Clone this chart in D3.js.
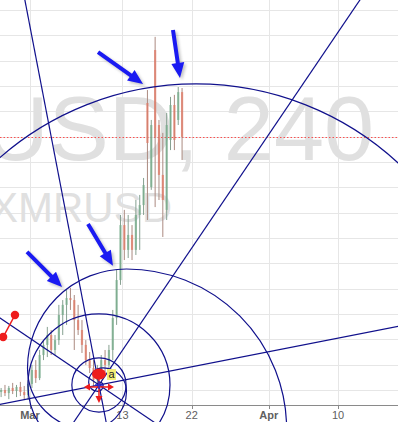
<!DOCTYPE html>
<html>
<head>
<meta charset="utf-8">
<script src="https://cdn.jsdelivr.net/npm/d3@7"></script>
<style>
html, body { margin: 0; padding: 0; background: #fff; overflow: hidden; }
svg { display: block; }
</style>
</head>
<body>
<script>
const W = 398, H = 422;
const plotBottom = 405;
const parse = d3.utcParse("%Y-%m-%d %H:%M");

// visible time window and price window
const viewStart = parse("2017-02-25 02:30");
const viewEnd = parse("2017-04-17 19:00");
const priceLow = 12, priceHigh = 27;

// 12h candles from Feb 25
const firstCandle = parse("2017-02-25 06:00");
const opens  = [11.92,12.00,11.88,12.08,11.96,12.12,11.92,11.80,12.24,12.79,12.47,13.38,13.78,14.17,13.58,13.97,14.96,15.36,15.63,15.55,14.76,14.37,13.78,13.18,12.87,12.39,12.79,13.18,12.99,13.58,14.84,16.34,18.51,17.53,18.12,17.53,18.91,19.30,23.33,20.01,25.42,22.46,20.49,19.11,21.87,23.25,22.66,23.76];
const highs  = [12.08,12.20,12.16,12.28,12.20,12.32,12.16,12.39,12.99,13.18,13.58,13.97,14.49,14.37,14.17,15.36,15.55,15.95,16.03,15.75,15.36,14.76,13.97,13.50,13.18,12.99,13.38,13.58,13.78,15.16,16.74,18.91,19.11,18.91,18.51,19.50,19.70,20.37,23.84,22.66,25.94,22.66,22.15,22.94,23.57,23.65,23.96,23.92];
const lows   = [11.72,11.76,11.64,11.84,11.72,11.76,11.61,11.61,12.08,12.28,12.39,13.18,13.30,13.38,13.38,13.78,14.17,14.57,15.16,13.58,14.17,13.46,12.99,12.67,12.12,12.08,12.47,12.71,12.79,13.18,14.57,16.15,17.13,17.21,17.13,17.33,17.53,18.91,18.71,19.90,19.22,19.50,18.04,18.71,21.47,21.47,22.46,21.08];
const closes = [12.00,11.88,12.08,11.96,12.12,11.92,11.80,12.24,12.79,12.47,13.38,13.78,14.17,13.58,13.97,14.96,15.36,15.63,15.55,14.76,14.37,13.78,13.18,12.87,12.39,12.79,13.18,12.99,13.58,14.84,16.34,18.51,17.53,18.12,17.53,18.91,19.30,20.09,21.75,22.46,21.99,20.49,19.50,22.46,23.25,21.87,23.76,21.99];
const lastPrice = 21.99;

const tickDates = ["2017-03-01 00:00","2017-03-13 00:00","2017-03-22 00:00","2017-04-01 00:00","2017-04-10 00:00"];
const tickLabels = ["Mar","13","22","Apr","10"];

// drawing anchors [time, price]
const pivot = [parse("2017-03-09 23:00"), 12.20];
const fanPoints = [
  [parse("2017-03-22 17:00"), 12.96],
  [parse("2017-03-17 06:00"), 15.47],
  [parse("2017-03-07 12:10"), 16.07],
  [parse("2017-02-27 05:00"), 14.41]
];
const spiralCentre = [parse("2017-03-13 12:45"), 12.87];
const spiralStart = [parse("2017-02-28 16:15"), 12.87];
const fibEdge = [parse("2017-03-19 04:20"), 12.20];
const fibLevels = [0.382, 1];
const bigCircleCentre = [parse("2017-03-22 13:25"), 12.32];
const bigCircleEdge = [parse("2017-03-22 13:25"), 24.08];
const arrows = [
  [[parse("2017-03-09 20:00"), 25.34], [parse("2017-03-15 16:20"), 24.08]],
  [[parse("2017-03-19 13:40"), 26.21], [parse("2017-03-20 11:30"), 24.32]],
  [[parse("2017-03-08 12:45"), 18.55], [parse("2017-03-11 18:40"), 16.90]],
  [[parse("2017-02-28 14:40"), 17.45], [parse("2017-03-05 03:50"), 16.07]]
];
const redSegment = [[parse("2017-02-25 12:15"), 14.09], [parse("2017-02-27 01:10"), 14.96]];
const markerDot = [parse("2017-03-09 23:00"), 12.63];
const markerCross = [parse("2017-03-09 23:00"), 12.12];

const x = d3.scaleUtc().domain([viewStart, viewEnd]).range([0, W]);
const y = d3.scaleLinear().domain([priceLow, priceHigh]).range([390, 10]);
const px = d => [x(d[0]), y(d[1])];

const svg = d3.select("body").append("svg").attr("width", W).attr("height", H);
const defs = svg.append("defs");
defs.append("clipPath").attr("id", "plot").append("rect").attr("width", W).attr("height", plotBottom);
const blur = defs.append("filter").attr("id", "shadow").attr("x", "-50%").attr("y", "-50%").attr("width", "200%").attr("height", "200%");
blur.append("feGaussianBlur").attr("stdDeviation", 1.6);

svg.append("rect").attr("width", W).attr("height", H).attr("fill", "#fff");

// grid
const grid = svg.append("g").attr("stroke", "#e6e6e6").attr("stroke-width", 1);
d3.range(priceLow, priceHigh + 1).forEach(p => {
  grid.append("line").attr("x1", 0).attr("x2", W).attr("y1", Math.round(y(p)) + 0.5).attr("y2", Math.round(y(p)) + 0.5);
});
tickDates.forEach(t => {
  const xx = Math.round(x(parse(t))) + 0.5;
  grid.append("line").attr("x1", xx).attr("x2", xx).attr("y1", 0).attr("y2", plotBottom);
});

// watermark (partly outside the visible pane, as in the source)
svg.append("text").attr("x", 374).attr("y", 160).attr("text-anchor", "end")
  .attr("font-family", "Liberation Sans, Arial, sans-serif").attr("font-size", 90)
  .attr("fill", "#e0e0e0").text("XMRUSD, 240");
svg.append("text").attr("x", -10).attr("y", 222)
  .attr("font-family", "Liberation Sans, Arial, sans-serif").attr("font-size", 42)
  .attr("fill", "#e0e0e0").text("XMRUSD");

// last price line
svg.append("line").attr("x1", 0).attr("x2", W)
  .attr("y1", Math.round(y(lastPrice)) + 0.5).attr("y2", Math.round(y(lastPrice)) + 0.5)
  .attr("stroke", "#ff2a2a").attr("stroke-width", 1).attr("stroke-dasharray", "1.5,2")
  .attr("stroke-opacity", 0.8);

// axis
svg.append("line").attr("x1", 0).attr("x2", W).attr("y1", plotBottom + 0.5).attr("y2", plotBottom + 0.5)
  .attr("stroke", "#8a8a8a");
tickDates.forEach((t, i) => {
  const xx = x(parse(t));
  svg.append("line").attr("x1", Math.round(xx) + 0.5).attr("x2", Math.round(xx) + 0.5)
    .attr("y1", plotBottom).attr("y2", plotBottom + 4).attr("stroke", "#8a8a8a");
  svg.append("text").attr("x", xx).attr("y", 419).attr("text-anchor", "middle")
    .attr("font-family", "Liberation Sans, Arial, sans-serif").attr("font-size", 11)
    .attr("font-weight", isNaN(+tickLabels[i]) ? "bold" : "normal")
    .attr("fill", "#606060").text(tickLabels[i]);
});

// candles
const candles = opens.map((o, i) => ({
  t: d3.utcHour.offset(firstCandle, 12 * i), o, h: highs[i], l: lows[i], c: closes[i]
}));
const cg = svg.append("g").attr("clip-path", "url(#plot)");
candles.forEach(d => {
  const up = d.c >= d.o;
  const cx = x(d.t);
  cg.append("line").attr("x1", cx).attr("x2", cx).attr("y1", y(d.h)).attr("y2", y(d.l))
    .attr("stroke", up ? "#86a090" : "#ab8a80").attr("stroke-width", 1);
  const top = y(Math.max(d.o, d.c)), bot = y(Math.min(d.o, d.c));
  cg.append("rect").attr("x", cx - 1.1).attr("width", 2.2).attr("y", top).attr("height", Math.max(1, bot - top))
    .attr("fill", up ? "#78ad8c" : "#e07a66").attr("fill-opacity", 0.75);
});

// drawings
const navy = "#10108c";
const dg = svg.append("g").attr("fill", "none").attr("stroke", navy).attr("stroke-width", 1.2);

// fan lines through the pivot
const [pcx, pcy] = px(pivot);
fanPoints.forEach(p => {
  const [qx, qy] = px(p);
  const L = Math.hypot(qx - pcx, qy - pcy), ux = (qx - pcx) / L, uy = (qy - pcy) / L;
  dg.append("line").attr("x1", pcx - ux * 1200).attr("y1", pcy - uy * 1200)
    .attr("x2", pcx + ux * 1200).attr("y2", pcy + uy * 1200);
});

// fib circles around the pivot
const r1 = Math.hypot(px(fibEdge)[0] - pcx, px(fibEdge)[1] - pcy);
fibLevels.forEach(lv => {
  dg.append("circle").attr("cx", pcx).attr("cy", pcy).attr("r", r1 * lv);
});

// large circle
const [bcx, bcy] = px(bigCircleCentre);
const br = Math.hypot(px(bigCircleEdge)[0] - bcx, px(bigCircleEdge)[1] - bcy);
dg.append("circle").attr("cx", bcx).attr("cy", bcy).attr("r", br);

// golden spiral built from quarter arcs
const phi = (1 + Math.sqrt(5)) / 2;
const [s0x, s0y] = px(spiralCentre), [s1x, s1y] = px(spiralStart);
const r0 = Math.hypot(s1x - s0x, s1y - s0y);
const a0 = Math.atan2(s1y - s0y, s1x - s0x);
const quarters = [{ k: 0, cx: s0x, cy: s0y, r: r0, a: a0 }];
for (let k = 1; k <= 3; k++) {
  const q = quarters[quarters.length - 1];
  const r = q.r * phi, ae = q.a + Math.PI / 2;
  quarters.push({ k, cx: q.cx + (q.r - r) * Math.cos(ae), cy: q.cy + (q.r - r) * Math.sin(ae), r, a: ae });
}
for (let k = -1; k >= -14; k--) {
  const q = quarters[0];
  const r = q.r / phi;
  quarters.unshift({ k, cx: q.cx + (q.r - r) * Math.cos(q.a), cy: q.cy + (q.r - r) * Math.sin(q.a), r, a: q.a - Math.PI / 2 });
}
const sp = d3.path();
quarters.forEach((q, i) => {
  const sx = q.cx + q.r * Math.cos(q.a), sy = q.cy + q.r * Math.sin(q.a);
  if (i === 0) sp.moveTo(sx, sy);
  sp.arc(q.cx, q.cy, q.r, q.a, q.a + Math.PI / 2, false);
});
dg.append("path").attr("d", sp.toString());

// red marks
const red = "#ee1c1c";
const [ra, rb] = [px(redSegment[0]), px(redSegment[1])];
svg.append("line").attr("x1", ra[0]).attr("y1", ra[1]).attr("x2", rb[0]).attr("y2", rb[1])
  .attr("stroke", red).attr("stroke-width", 1.5);
[ra, rb].forEach(p => svg.append("circle").attr("cx", p[0]).attr("cy", p[1]).attr("r", 4.2).attr("fill", red));

const [mcx, mcy] = px(markerCross);
const crossG = svg.append("g").attr("fill", red).attr("stroke", red);
crossG.append("line").attr("x1", mcx - 12).attr("x2", mcx + 12).attr("y1", mcy).attr("y2", mcy).attr("stroke-width", 1.5);
crossG.append("line").attr("x1", mcx).attr("x2", mcx).attr("y1", mcy - 12).attr("y2", mcy + 12).attr("stroke-width", 1.5);
crossG.append("path").attr("stroke", "none").attr("d",
  `M${mcx - 15},${mcy}L${mcx - 9},${mcy - 3.5}L${mcx - 9},${mcy + 3.5}Z` +
  `M${mcx + 15},${mcy}L${mcx + 9},${mcy - 3.5}L${mcx + 9},${mcy + 3.5}Z` +
  `M${mcx},${mcy + 16}L${mcx - 3.5},${mcy + 9}L${mcx + 3.5},${mcy + 9}Z`);
svg.append("path").attr("stroke", "#2a2ad0").attr("stroke-width", 1.5)
  .attr("d", `M${mcx - 4},${mcy - 2}L${mcx + 4},${mcy - 2}M${mcx},${mcy - 6}L${mcx},${mcy + 2}`);

const [dx0, dy0] = px(markerDot);
svg.append("ellipse").attr("cx", dx0).attr("cy", dy0).attr("rx", 7).attr("ry", 5.5).attr("fill", red);
svg.append("rect").attr("x", dx0 + 8).attr("y", dy0 - 5).attr("width", 9).attr("height", 11).attr("fill", "#f4ee78");
svg.append("text").attr("x", dx0 + 12.5).attr("y", dy0 + 4).attr("text-anchor", "middle")
  .attr("font-family", "Liberation Sans, Arial, sans-serif").attr("font-size", 11).attr("fill", "#222").text("a");

// arrows
function arrowPath(x1, y1, x2, y2) {
  const dx = x2 - x1, dy = y2 - y1, L = Math.hypot(dx, dy), ux = dx / L, uy = dy / L, nx = -uy, ny = ux;
  const hl = 15, hw = 6.5, sw = 2;
  const bx = x2 - ux * hl, by = y2 - uy * hl;
  const pts = [[x1 + nx * sw, y1 + ny * sw], [bx + nx * sw, by + ny * sw], [bx + nx * hw, by + ny * hw], [x2, y2],
    [bx - nx * hw, by - ny * hw], [bx - nx * sw, by - ny * sw], [x1 - nx * sw, y1 - ny * sw]];
  return "M" + pts.map(p => p.join(",")).join("L") + "Z";
}
arrows.forEach(a => {
  const [p, q] = [px(a[0]), px(a[1])];
  svg.append("path").attr("d", arrowPath(p[0], p[1], q[0], q[1])).attr("fill", "#555")
    .attr("opacity", 0.35).attr("filter", "url(#shadow)").attr("transform", "translate(2,2)");
  svg.append("path").attr("d", arrowPath(p[0], p[1], q[0], q[1])).attr("fill", "#1a1af2");
});
</script>
</body>
</html>
